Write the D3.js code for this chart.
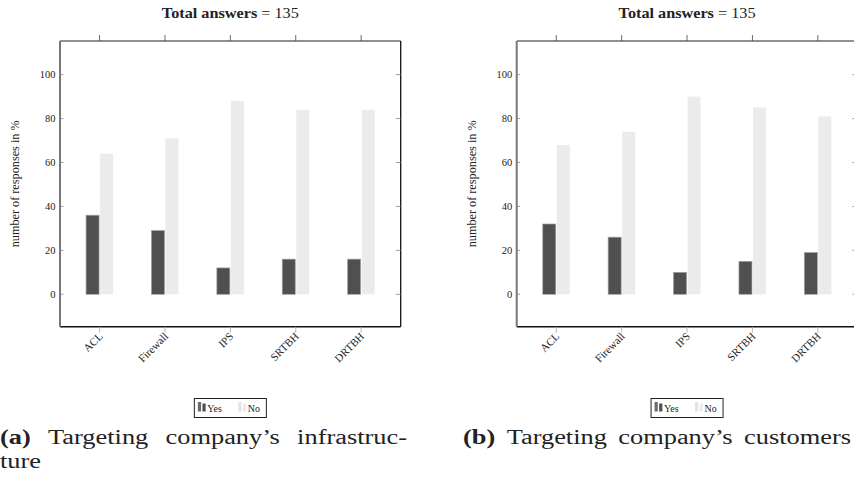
<!DOCTYPE html>
<html><head><meta charset="utf-8">
<script src="https://cdn.jsdelivr.net/npm/d3@7"></script>
<style>
html,body{margin:0;padding:0;background:#fff;}
svg{display:block;}
text{font-family:"Liberation Serif","Times New Roman",serif;fill:#222;}
</style></head>
<body>
<svg id="chart" width="854" height="483"></svg>
<script>
const categories = ["ACL", "Firewall", "IPS", "SRTBH", "DRTBH"];
const seriesNames = ["Yes", "No"];
const infraYes = [36, 29, 12, 16, 16];
const infraNo = [64, 71, 88, 84, 84];
const custYes = [32, 26, 10, 15, 19];
const custNo = [68, 74, 90, 85, 81];
const yTicks = [0, 20, 40, 60, 80, 100];
const titleBold = "Total answers";
const titleRest = " = 135";
const yLabel = "number of responses in %";
const captions = [
  {tag: "(a)", lines: ["Targeting company\u2019s infrastruc-", "ture"]},
  {tag: "(b)", lines: ["Targeting company\u2019s customers"]}
];

(function () {
const FONT = "Liberation Serif, Times New Roman, serif";
const svg = d3.select("#chart");
const panels = [
  {left: 60, yes: infraYes, no: infraNo, cap: captions[0], capX: 0, capW: 407},
  {left: 516.7, yes: custYes, no: custNo, cap: captions[1], capX: 463, capW: 388}
];
const plotW = 340.7, plotTop = 41, plotBottom = 326.7;
const colYes = "#505050", colNo = "#ebebeb";
const barW = 13;

const y = d3.scaleLinear().domain([-14.75, 115.3]).range([plotBottom, plotTop]);

function stretch(t, w) {
  t.attr("textLength", w).attr("lengthAdjust", "spacingAndGlyphs");
}

panels.forEach(p => {
  const g = svg.append("g").attr("font-family", FONT);
  const x = d3.scalePoint().domain(categories).range([p.left, p.left + plotW]).padding(0.605);
  const cx = p.left + plotW / 2;

  const data = categories.map((c, i) => ({c, yes: p.yes[i], no: p.no[i]}));
  g.selectAll("rect.yes").data(data).join("rect").attr("class", "yes")
    .attr("x", d => x(d.c) - barW - 0.5).attr("width", barW)
    .attr("y", d => y(d.yes)).attr("height", d => y(0) - y(d.yes))
    .attr("fill", colYes).attr("stroke", "#a0a0a0").attr("stroke-width", 0.7);
  g.selectAll("rect.no").data(data).join("rect").attr("class", "no")
    .attr("x", d => x(d.c) + 0.5).attr("width", barW)
    .attr("y", d => y(d.no)).attr("height", d => y(0) - y(d.no))
    .attr("fill", colNo);

  g.append("line").attr("x1", p.left).attr("x2", p.left + plotW).attr("y1", plotTop).attr("y2", plotTop).attr("stroke", "#222").attr("stroke-width", 1.2);
  g.append("line").attr("x1", p.left).attr("x2", p.left + plotW).attr("y1", plotBottom).attr("y2", plotBottom).attr("stroke", "#111").attr("stroke-width", 1.5);
  g.append("line").attr("x1", p.left + plotW).attr("x2", p.left + plotW).attr("y1", plotTop).attr("y2", plotBottom).attr("stroke", "#111").attr("stroke-width", 1.3);
  g.append("line").attr("x1", p.left).attr("x2", p.left).attr("y1", plotTop).attr("y2", plotBottom).attr("stroke", "#777").attr("stroke-width", 2);

  g.selectAll("line.tt").data(categories).join("line").attr("class", "tt")
    .attr("x1", d => x(d)).attr("x2", d => x(d)).attr("y1", plotTop - 6).attr("y2", plotTop)
    .attr("stroke", "#444").attr("stroke-width", 0.8);
  g.selectAll("line.bt").data(categories).join("line").attr("class", "bt")
    .attr("x1", d => x(d)).attr("x2", d => x(d)).attr("y1", plotBottom).attr("y2", plotBottom + 6)
    .attr("stroke", "#aaa").attr("stroke-width", 0.8);
  g.selectAll("line.rt").data(yTicks).join("line").attr("class", "rt")
    .attr("x1", p.left + plotW - 5).attr("x2", p.left + plotW).attr("y1", d => y(d)).attr("y2", d => y(d))
    .attr("stroke", "#888").attr("stroke-width", 0.8);
  g.selectAll("line.lt").data(yTicks).join("line").attr("class", "lt")
    .attr("x1", p.left).attr("x2", p.left + 3.5).attr("y1", d => y(d)).attr("y2", d => y(d))
    .attr("stroke", "#888").attr("stroke-width", 0.8);

  g.selectAll("text.yt").data(yTicks).join("text").attr("class", "yt")
    .attr("x", p.left - 4.5).attr("y", d => y(d)).attr("dy", "0.35em")
    .attr("text-anchor", "end").attr("font-size", 10.5).attr("fill", "#333").text(d => d);

  g.selectAll("text.xl").data(categories).join("text").attr("class", "xl")
    .attr("transform", d => `translate(${x(d) + 1.5},${plotBottom + 8}) rotate(-45)`)
    .attr("text-anchor", "end").attr("dy", "0.3em").attr("font-size", 11).attr("fill", "#333").text(d => d);

  const yl = g.append("text").attr("transform", `translate(${p.left - 41},${(plotTop + plotBottom) / 2}) rotate(-90)`)
    .attr("text-anchor", "middle").attr("font-size", 11.5).attr("fill", "#333").text(yLabel);
  stretch(yl, 127);

  const tt = g.append("text").attr("x", cx).attr("y", 18).attr("text-anchor", "middle").attr("font-size", 14).attr("fill", "#111");
  tt.append("tspan").attr("font-weight", "bold").text(titleBold);
  tt.append("tspan").text(titleRest);
  stretch(tt, 137);

  const lg = g.append("g").attr("transform", `translate(${cx - 36},398.5)`);
  lg.append("rect").attr("width", 72).attr("height", 19).attr("fill", "#fff").attr("stroke", "#222").attr("stroke-width", 1);
  const items = [{n: seriesNames[0], c: colYes, x: 3.5}, {n: seriesNames[1], c: colNo, x: 44}];
  items.forEach(it => {
    lg.append("rect").attr("x", it.x).attr("y", 3.5).attr("width", 3.2).attr("height", 9.5).attr("fill", it.c === colYes ? "#6a6a6a" : "#e4e4e4");
    lg.append("rect").attr("x", it.x + 4.6).attr("y", 5).attr("width", 3.2).attr("height", 8).attr("fill", it.c);
    lg.append("text").attr("x", it.x + 9.5).attr("y", 13).attr("font-size", 10).attr("fill", "#333").text(it.n);
  });

  const sx = 1.32;
  p.cap.lines.forEach((line, li) => {
    const t = svg.append("text").attr("font-family", FONT)
      .attr("transform", `translate(${p.capX},${443.5 + li * 24.2}) scale(${sx},1)`)
      .attr("font-size", 20).attr("fill", "#111");
    if (li === 0) {
      t.append("tspan").attr("font-weight", "bold").text(p.cap.tag + " ");
    }
    t.append("tspan").text(line);
    if (li === 0) {
      const nat = t.node().getComputedTextLength();
      const spaces = (p.cap.tag + " " + line).split(" ").length - 1;
      const extra = (p.capW / sx - nat) / spaces;
      t.attr("word-spacing", extra);
    }
  });
});
})();
</script>
</body></html>
